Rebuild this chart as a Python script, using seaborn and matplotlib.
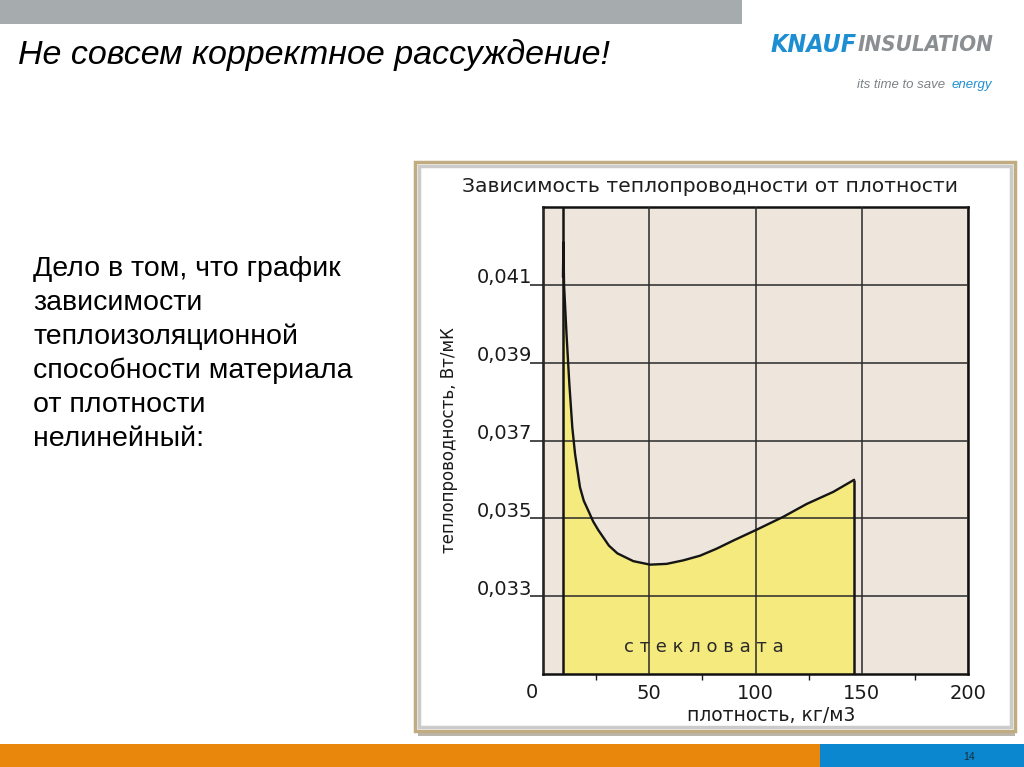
import matplotlib
matplotlib.use("Agg")
import matplotlib.pyplot as plt
from matplotlib.patches import Rectangle
from matplotlib.transforms import ScaledTranslation
import seaborn as sns
import pandas as pd

# ---------------- data ----------------
density = [9.4, 9.6, 9.9, 11.1, 12.4, 13.8, 15.1, 17.4, 19.2, 21.3, 23.6, 26.0, 28.5, 31.0, 35.0,
           42.5, 50.4, 58.2, 66.0, 73.9, 81.7, 89.6, 100.6, 113.1, 124.1, 136.6, 146.4]
conductivity = [0.0412, 0.0421, 0.0410, 0.0397, 0.03845, 0.03733, 0.03665, 0.0358,
                0.03545, 0.0352, 0.03492, 0.0347, 0.0345, 0.0343, 0.0341, 0.0339, 0.03381,
                0.03383, 0.03392, 0.03404, 0.03422, 0.03443, 0.03471, 0.03504, 0.03537,
                0.03568, 0.03599]
range_start = 9.3
x_ticks = [0, 50, 100, 150, 200]
x_tick_labels = ["0", "50", "100", "150", "200"]
x_minor_ticks = [25, 75, 125, 175]
y_ticks = [0.033, 0.035, 0.037, 0.039, 0.041]
y_tick_labels = ["0,033", "0,035", "0,037", "0,039", "0,041"]
x_limits = (0, 200)
y_limits = (0.031, 0.043)

slide_title = "Не совсем корректное рассуждение!"
body_lines = ["Дело в том, что график", "зависимости", "теплоизоляционной",
              "способности материала", "от плотности", "нелинейный:"]
chart_title = "Зависимость теплопроводности от плотности"
x_label = "плотность, кг/м3"
y_label = "теплопроводность, Вт/мК"
area_label = "с т е к л о в а т а"
page_number = "14"

df = pd.DataFrame({"density": density, "conductivity": conductivity})

# ---------------- style ----------------
sns.set_style("white")
plt.rcParams["font.family"] = ["DejaVu Sans"]

W, H = 1024, 767
fig = plt.figure(figsize=(W / 100, H / 100), dpi=100)
fig.patch.set_facecolor("white")

def fx(px):
    return px / W

def fy(py):
    return 1 - py / H

# top grey bar
fig.patches.append(Rectangle((0, fy(24)), fx(742), 24 / H, transform=fig.transFigure,
                             facecolor="#A6ABAD", edgecolor="none", zorder=-10))
# bottom bars
fig.patches.append(Rectangle((0, 0), fx(820), 23 / H, transform=fig.transFigure,
                             facecolor="#E8870C", edgecolor="none", zorder=-10))
fig.patches.append(Rectangle((fx(820), 0), 1 - fx(820), 23 / H, transform=fig.transFigure,
                             facecolor="#0A87CF", edgecolor="none", zorder=-10))
fig.text(fx(969), fy(757), page_number, fontsize=7.5, color="#1B2A3A",
         ha="center", va="center", family="Liberation Sans")

# slide title
fig.text(fx(18), fy(55), slide_title, fontsize=24.5, style="italic",
         family="Liberation Sans", color="black", ha="left", va="center")

# body text
for i, line in enumerate(body_lines):
    fig.text(fx(33), fy(269 + 34 * i), line, fontsize=20.5, family="Liberation Sans",
             color="black", ha="left", va="center")

# logo
fig.text(fx(857), fy(45), "KNAUF", fontsize=18, fontweight="bold", style="italic",
         fontstretch="condensed", family="DejaVu Sans", color="#1E8ED3",
         ha="right", va="center")
fig.text(fx(858), fy(45), "INSULATION", fontsize=16, fontweight="bold", style="italic",
         fontstretch="condensed", family="DejaVu Sans", color="#8C8F91",
         ha="left", va="center")
fig.text(fx(857), fy(85), "its time to save", fontsize=9.5, style="italic",
         family="Liberation Sans", color="#7D8285", ha="left", va="center")
fig.text(fx(952), fy(85), "energy", fontsize=9.5, style="italic",
         family="Liberation Sans", color="#1E8ED3", ha="left", va="center")

# chart frame
fig.patches.append(Rectangle((fx(418), fy(736)), fx(597), 4 / H, transform=fig.transFigure,
                             facecolor="#8F8272", edgecolor="none", alpha=0.6, zorder=-9))
fig.patches.append(Rectangle((fx(415), fy(731)), fx(600), 569 / H, transform=fig.transFigure,
                             facecolor="white", edgecolor="#C1AC82", linewidth=2.5, zorder=-8))
fig.patches.append(Rectangle((fx(419), fy(727)), fx(592), 561 / H, transform=fig.transFigure,
                             facecolor="none", edgecolor="#CBCBCB", linewidth=2.5, zorder=-7))

# ---------------- chart ----------------
ax = fig.add_axes([fx(543), fy(674), 425 / W, 467 / H])
ax.set_facecolor("#EEE6DC")
ax.set_xlim(*x_limits)
ax.set_ylim(*y_limits)

ax.fill_between(df["density"], y_limits[0], df["conductivity"], color="#F5EA7D",
                linewidth=0, zorder=1)
sns.lineplot(data=df, x="density", y="conductivity", sort=False, estimator=None,
             color="#151515", linewidth=1.7, ax=ax, zorder=3)
ax.axvline(range_start, color="#151515", linewidth=1.8, zorder=3)
ax.vlines(density[-1], y_limits[0], conductivity[-1], color="#151515", linewidth=1.8, zorder=3)

ax.set_xticks(x_ticks)
ax.set_xticklabels(x_tick_labels)
ax.set_xticks(x_minor_ticks, minor=True)
ax.set_yticks(y_ticks)
ax.set_yticklabels(y_tick_labels)

ax.grid(True, which="major", color="#2A2A2A", linewidth=1.1)
ax.set_axisbelow(False)
for gl in ax.get_xgridlines() + ax.get_ygridlines():
    gl.set_zorder(2)

ax.tick_params(axis="x", which="major", length=0, pad=7, labelsize=14, colors="#1A1A1A")
ax.tick_params(axis="x", which="minor", length=4, width=1, direction="out",
               color="#1A1A1A", bottom=True)
ax.tick_params(axis="y", which="major", length=9.5, width=1.1, direction="out",
               pad=-2, labelsize=14, colors="#1A1A1A", left=True)

for lab in ax.get_yticklabels():
    lab.set_transform(lab.get_transform() + ScaledTranslation(0, 0.09, fig.dpi_scale_trans))
xl = ax.get_xticklabels()
xl[0].set_transform(xl[0].get_transform() + ScaledTranslation(-0.11, 0.01, fig.dpi_scale_trans))

for s in ax.spines.values():
    s.set_visible(True)
    s.set_color("#111111")
    s.set_linewidth(1.8)

ax.set_xlabel(x_label, fontsize=13.5, color="#1A1A1A")
ax.set_ylabel(y_label, fontsize=12, color="#1A1A1A")
ax.xaxis.set_label_coords(0.5365, -0.068)
ax.yaxis.set_label_coords(-0.2, 0.5)

ax.text(75.8, 0.0317, area_label, fontsize=13, color="#2A2A2A",
        ha="center", va="center", zorder=4)

fig.text(fx(710), fy(187), chart_title, fontsize=14.6, color="#1E1E1E",
         ha="center", va="center")

fig.savefig("out.png", dpi=100)
